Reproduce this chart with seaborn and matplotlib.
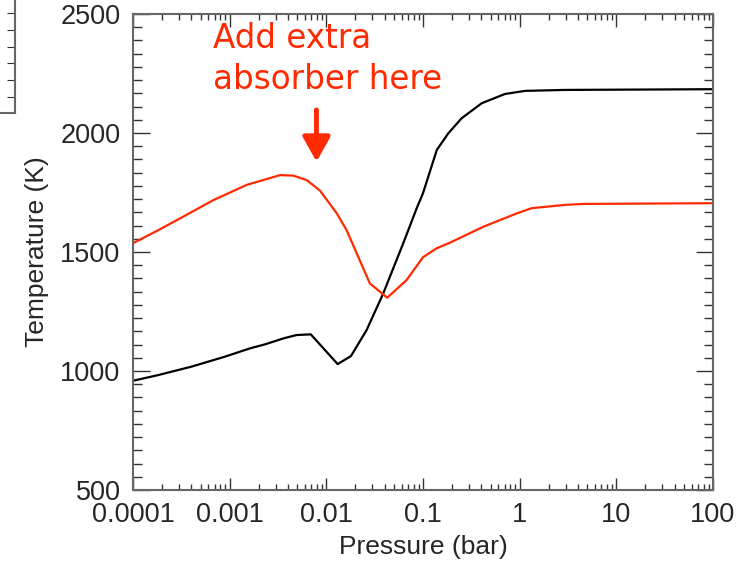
import numpy as np
import pandas as pd
import seaborn as sns
import matplotlib.pyplot as plt
from matplotlib.ticker import LogLocator, AutoMinorLocator, NullFormatter, FixedLocator
import matplotlib.patheffects as pe

# pressure (bar) and temperature (K)
p_red = [1.0e-4, 1.83e-4, 3.06e-4, 6.78e-4, 1.5e-3, 3.32e-3, 4.55e-3, 6.27e-3,
         8.59e-3, 0.0128, 0.0162, 0.0282, 0.0427, 0.0676, 0.1, 0.139, 0.19,
         0.42, 0.625, 0.93, 1.33, 2.94, 4.55, 100.0]
t_red = [1537, 1592, 1641, 1718, 1782, 1823, 1821, 1802,
         1758, 1663, 1592, 1368, 1308, 1382, 1478, 1516, 1539,
         1606, 1634, 1662, 1684, 1698, 1702, 1705]

p_black = [1.0e-4, 1.83e-4, 4.0e-4, 8.9e-4, 1.62e-3, 2.32e-3, 3.6e-3, 4.9e-3,
           6.9e-3, 0.0131, 0.018, 0.0261, 0.0388, 0.0625, 0.0861, 0.1, 0.139,
           0.183, 0.251, 0.405, 0.705, 1.135, 2.94, 100.0]
t_black = [959, 983, 1018, 1060, 1095, 1112, 1137, 1151,
           1154, 1029, 1063, 1172, 1326, 1537, 1684, 1747, 1929,
           1999, 2062, 2125, 2164, 2177, 2181, 2184]

x_ticks = [1e-4, 1e-3, 1e-2, 1e-1, 1, 10, 100]
x_tick_labels = ["0.0001", "0.001", "0.01", "0.1", "1", "10", "100"]
y_ticks = [500, 1000, 1500, 2000, 2500]

red = "#ff2a00"

df_red = pd.DataFrame({"P": p_red, "T": t_red})
df_black = pd.DataFrame({"P": p_black, "T": t_black})

sns.set_style("ticks")
plt.rcParams['font.family'] = ['Liberation Sans', 'DejaVu Sans']

fig = plt.figure(figsize=(7.52, 5.65), dpi=100)
ax = fig.add_axes([133/752, 1-490/565, 580/752, 476/565])

sns.lineplot(data=df_black, x="P", y="T", color="black", lw=1.6, ax=ax, sort=False)
sns.lineplot(data=df_red, x="P", y="T", color=red, lw=1.6, ax=ax, sort=False)

ax.set_xscale("log")
ax.set_xlim(1e-4, 100)
ax.set_ylim(500, 2500)
ax.set_xticks(x_ticks)
ax.set_xticklabels(x_tick_labels)
ax.xaxis.set_minor_locator(LogLocator(base=10, subs=np.arange(2, 10), numticks=20))
ax.xaxis.set_minor_formatter(NullFormatter())
ax.set_yticks(y_ticks)
ax.yaxis.set_minor_locator(AutoMinorLocator(9))

ax.tick_params(axis="both", which="both", direction="in", top=True, right=True,
               color="#333333", width=1.0, labelsize=19.5)
ax.tick_params(axis="x", which="major", length=9, pad=9)
ax.tick_params(axis="x", which="minor", length=4.5)
ax.tick_params(axis="y", which="major", length=12, pad=9)
ax.tick_params(axis="y", which="minor", length=6.5)
for s in ax.spines.values():
    s.set_color("#666666")
    s.set_linewidth(1.5)

ax.set_xlabel("Pressure (bar)", fontsize=19, labelpad=5)
ax.set_ylabel("Temperature (K)", fontsize=19, labelpad=8)

ax.text(0.138, 0.983, "Add extra\nabsorber here", transform=ax.transAxes,
        ha="left", va="top", color=red, fontsize=23.5, family="DejaVu Sans",
        linespacing=1.3)

ax.annotate("", xy=(0.0079, 1880), xytext=(0.0079, 2097),
            arrowprops=dict(arrowstyle="-|>,head_width=0.42,head_length=0.75",
                            mutation_scale=20, lw=3.5, color=red,
                            shrinkA=0, shrinkB=0,
                            path_effects=[pe.SimplePatchShadow(offset=(1.5, -1.5), alpha=0.25),
                                          pe.Normal()]))

# piece of another panel cut off at the top-left corner
frag = fig.add_axes([-0.05, 1-113/565, 0.05+15/752, 0.3])
frag.set_ylim(0, 169.5)
frag.set_xticks([])
frag.yaxis.tick_right()
frag.yaxis.set_major_locator(FixedLocator([16, 33, 50, 66, 83, 100]))
frag.set_yticklabels([])
frag.tick_params(axis="y", direction="in", length=6, color="#333333")
frag.spines["left"].set_visible(False)
frag.spines["top"].set_visible(False)
for s in ["right", "bottom"]:
    frag.spines[s].set_color("#666666")
    frag.spines[s].set_linewidth(1.5)

fig.savefig("out.png", dpi=100)
